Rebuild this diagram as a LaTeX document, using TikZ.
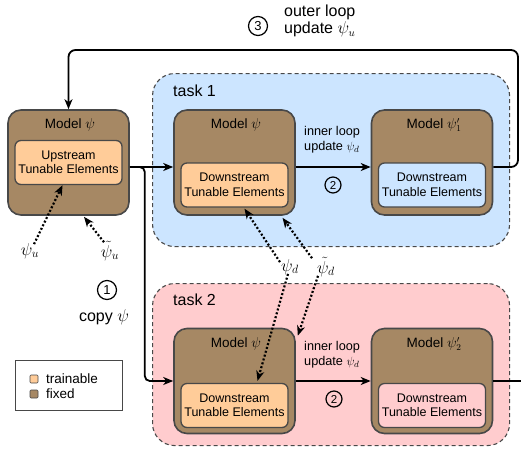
\documentclass[tikz,border=0pt]{standalone}
\usepackage{fontspec}
\setmainfont{Liberation Sans}
\usetikzlibrary{arrows.meta,calc}
\definecolor{fixedc}{RGB}{166,136,100}
\definecolor{trainc}{RGB}{255,204,153}
\definecolor{bluec}{RGB}{204,229,255}
\definecolor{pinkc}{RGB}{255,204,206}
\definecolor{edgec}{RGB}{72,72,72}
\tikzset{
  outerbox/.style={draw=edgec, fill=fixedc, line width=1.6pt, rounded corners=13pt, minimum width=121pt, minimum height=105pt, inner sep=0pt},
  innerbox/.style={draw=edgec, line width=1.3pt, rounded corners=6pt, minimum width=107pt, minimum height=44pt, inner sep=0pt, align=center, font=\fontsize{12.5}{14.5}\selectfont},
  taskbox/.style={draw=edgec, dash pattern=on 4pt off 3pt, line width=1.1pt, rounded corners=22pt, inner sep=0pt},
  arr/.style={-{Stealth[length=10pt,width=8pt,inset=3pt]}, line width=1.8pt},
  dotarr/.style={-{Stealth[length=10pt,width=8pt,inset=3pt]}, line width=2.2pt, dash pattern=on 2pt off 2pt},
  modlabel/.style={font=\fontsize{13.5}{16}\selectfont, inner sep=0pt},
  tasklabel/.style={font=\fontsize{16}{18}\selectfont, anchor=west, inner sep=0pt},
  bigtext/.style={font=\fontsize{16}{17}\selectfont, inner sep=0pt},
  looptext/.style={font=\fontsize{12.7}{15}\selectfont, align=left, anchor=west, inner sep=0pt},
  mathlabel/.style={font=\fontsize{17}{20}\selectfont, inner sep=1pt},
  bigcirc/.style={circle, draw=black, line width=1.2pt, inner sep=0pt, minimum size=19pt, font=\fontsize{13}{13}\selectfont},
  smallcirc/.style={circle, draw=black, line width=1.2pt, inner sep=0pt, minimum size=16pt, font=\fontsize{11.5}{12}\selectfont},
  legsq/.style={draw=edgec, line width=0.6pt, minimum size=8pt, inner sep=0pt, rounded corners=1pt},
  legtext/.style={font=\fontsize{13.5}{15}\selectfont, anchor=west, inner sep=0pt}
}
\begin{document}
\begin{tikzpicture}[x=1pt,y=-1pt]
\useasboundingbox (0,0) rectangle (521,461);

% task regions
\node[taskbox, fill=bluec, minimum width=357pt, minimum height=173pt, anchor=north west] (T1) at (152,73) {};
\node[taskbox, fill=pinkc, minimum width=357pt, minimum height=162pt, anchor=north west] (T2) at (152,283) {};
\node[tasklabel] (T1lab) at (173,91) {task 1};
\node[tasklabel] (T2lab) at (173,300) {task 2};

% left model
\node[outerbox] (L) at (68.5,162.5) {};
\node[modlabel] (Llab) at (70,125) {Model $\psi$};
\node[innerbox, fill=trainc] (Lin) at (68.5,162.5) {Upstream\\Tunable Elements};

% task 1 models
\node[outerbox] (M1) at (234.5,162.5) {};
\node[modlabel] (M1lab) at (236,125) {Model $\psi$};
\node[innerbox, fill=trainc] (M1in) at (234.5,185) {Downstream\\Tunable Elements};

\node[outerbox] (P1) at (432,162.5) {};
\node[modlabel] (P1lab) at (434,125) {Model $\psi'_1$};
\node[innerbox, fill=bluec] (P1in) at (432,185) {Downstream\\Tunable Elements};

% task 2 models
\node[outerbox] (M2) at (234.5,381) {};
\node[modlabel] (M2lab) at (236,344) {Model $\psi$};
\node[innerbox, fill=trainc] (M2in) at (234.5,405.5) {Downstream\\Tunable Elements};

\node[outerbox] (P2) at (432,381) {};
\node[modlabel] (P2lab) at (434,344) {Model $\psi'_2$};
\node[innerbox, fill=pinkc] (P2in) at (432,405.5) {Downstream\\Tunable Elements};

% inner loop texts
\node[looptext] (il1) at (304,139.5) {inner loop\\update $\psi_d$};
\node[looptext] (il2) at (304,354.5) {inner loop\\update $\psi_d$};
\node[smallcirc] (c2a) at (333,185) {2};
\node[smallcirc] (c2b) at (334,399) {2};

% outer loop text
\node[bigcirc] (c3) at (258,26) {3};
\node[bigtext, align=left, anchor=west] (ol) at (284,21) {outer loop\\update $\psi_u$};

% copy
\node[bigcirc] (c1) at (107,290) {1};
\node[bigtext] (cp) at (104,317) {copy $\psi$};

% solid connectors
\draw[arr] ([yshift=-4.5pt]L.east) -- ([yshift=-4.5pt]M1.west);
\draw[arr, rounded corners=5pt] ([yshift=-4.5pt]L.east) -- ([yshift=-4.5pt,xshift=15pt]L.east) |- (M2.west);
\draw[arr] ([yshift=-4.5pt]M1.east) -- ([yshift=-4.5pt]P1.west);
\draw[arr] (M2.east) -- (P2.west);
\coordinate (topright) at (518,50);
\draw[arr, rounded corners=7pt] ([yshift=-4.5pt]P1.east) -| (topright) -| (L.north);
\coordinate (exit2) at (521,381);
\draw[line width=1.8pt] (P2.east) -- (exit2);

% math labels
\node[mathlabel] (psiu) at (30,251) {$\psi_u$};
\node[mathlabel] (psitu) at (110,251) {$\tilde{\psi}_u$};
\node[mathlabel] (psid) at (290,267) {$\psi_d$};
\node[mathlabel] (psitd) at (326,267) {$\tilde{\psi}_d$};

% dotted connectors
\draw[dotarr] ([shift={(4pt,-2pt)}]psiu.north) -- ([xshift=-6pt]Lin.south);
\draw[dotarr] ([shift={(-6pt,-2pt)}]psitu.north) -- ([xshift=15.5pt,yshift=-1pt]L.south);
\draw[dotarr] ([shift={(-10pt,-4pt)}]psid.north) -- ([xshift=10pt,yshift=-1pt]M1in.south);
\draw[dotarr] ([shift={(-14pt,-2pt)}]psitd.north) -- ([xshift=48pt,yshift=-2pt]M1.south);
\draw[dotarr] ([shift={(-2pt,2pt)}]psid.south) -- ([xshift=23pt,yshift=2pt]M2in.north);
\draw[dotarr] ([shift={(-8pt,2pt)}]psitd.south) -- ([xshift=2pt,yshift=-8pt]M2.north east);

% legend
\node[draw=edgec, line width=0.8pt, minimum width=107pt, minimum height=50pt, anchor=north west, inner sep=0pt] (leg) at (15,360) {};
\node[legsq, fill=trainc] (sq1) at (34,379) {};
\node[legsq, fill=fixedc] (sq2) at (34,394) {};
\node[legtext] (lt1) at (46,378.5) {trainable};
\node[legtext] (lt2) at (46,393.5) {fixed};
\end{tikzpicture}
\end{document}
